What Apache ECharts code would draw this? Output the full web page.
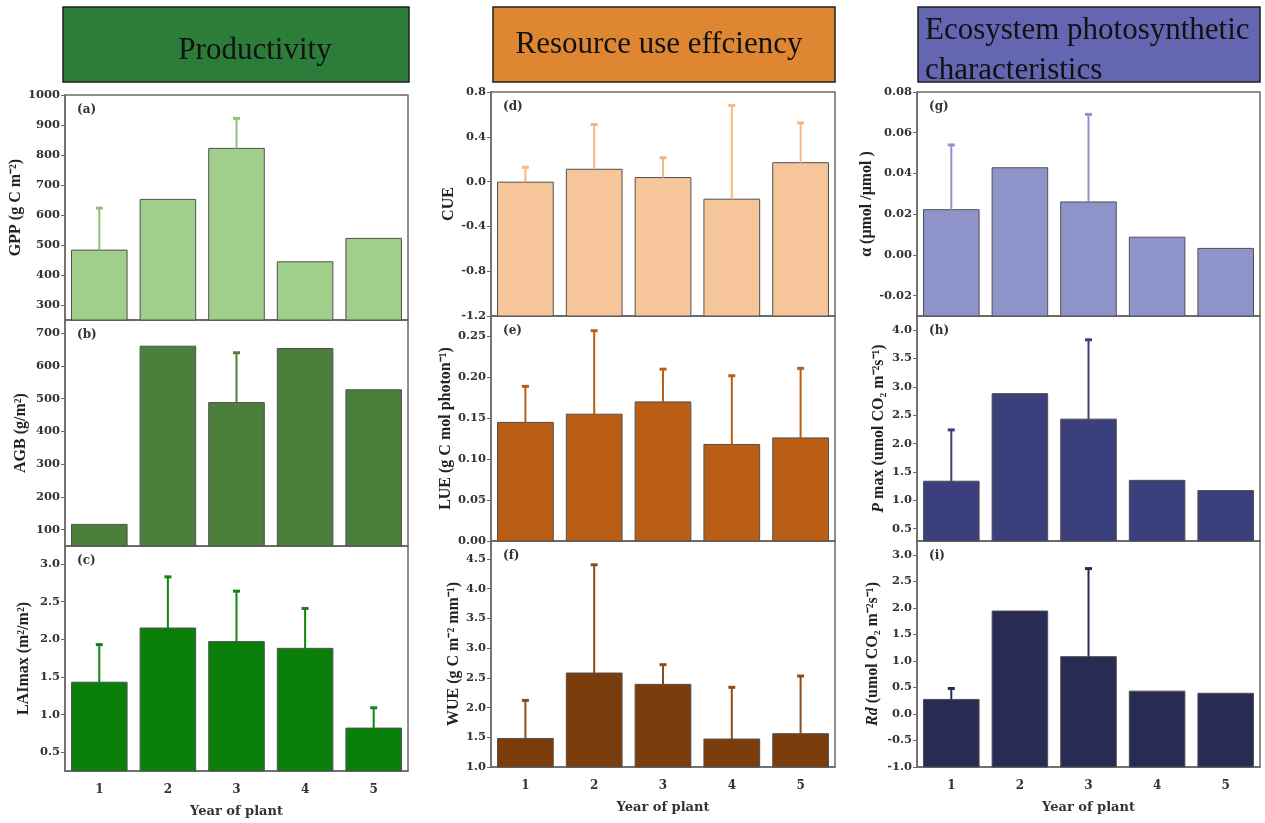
<!DOCTYPE html>
<html>
<head>
<meta charset="utf-8">
<script src="https://cdn.jsdelivr.net/npm/echarts@6/dist/echarts.min.js"></script>
<style>
html,body{margin:0;padding:0;background:#fff;}
#chart{width:1265px;height:823px;}
</style>
</head>
<body>
<div id="chart"></div>
<script>
// ---------- data ----------
const years = ['1', '2', '3', '4', '5'];

const gpp = [483, 652, 822, 444, 522];
const gppUpper = [623, null, 922, null, null];
const agb = [116, 660, 488, 653, 527];
const agbUpper = [null, null, 640, null, null];
const laimax = [1.43, 2.15, 1.97, 1.88, 0.82];
const laimaxUpper = [1.93, 2.83, 2.64, 2.41, 1.09];

const cue = [-0.005, 0.11, 0.036, -0.157, 0.169];
const cueUpper = [0.128, 0.51, 0.213, 0.68, 0.524];
const lue = [0.145, 0.155, 0.170, 0.118, 0.126];
const lueUpper = [0.189, 0.257, 0.210, 0.202, 0.211];
const wue = [1.48, 2.58, 2.39, 1.47, 1.56];
const wueUpper = [2.12, 4.40, 2.72, 2.34, 2.53];

const alpha = [0.0222, 0.0428, 0.026, 0.0087, 0.0032];
const alphaUpper = [0.054, null, 0.069, null, null];
const pmax = [1.335, 2.88, 2.43, 1.35, 1.17];
const pmaxUpper = [2.24, null, 3.83, null, null];
const rd = [0.274, 1.94, 1.08, 0.43, 0.39];
const rdUpper = [0.48, null, 2.74, null, null];

// tick labels
const gppTicks = [300, 400, 500, 600, 700, 800, 900, 1000];
const agbTicks = [100, 200, 300, 400, 500, 600, 700];
const laiTicks = [0.5, 1.0, 1.5, 2.0, 2.5, 3.0];
const cueTicks = [-1.2, -0.8, -0.4, 0.0, 0.4, 0.8];
const lueTicks = [0.00, 0.05, 0.10, 0.15, 0.20, 0.25];
const wueTicks = [1.0, 1.5, 2.0, 2.5, 3.0, 3.5, 4.0, 4.5];
const alphaTicks = [-0.02, 0.00, 0.02, 0.04, 0.06, 0.08];
const pmaxTicks = [0.5, 1.0, 1.5, 2.0, 2.5, 3.0, 3.5, 4.0];
const rdTicks = [-1.0, -0.5, 0.0, 0.5, 1.0, 1.5, 2.0, 2.5, 3.0];

const headers = ['Productivity', 'Resource use effciency', 'Ecosystem photosynthetic\ncharacteristics'];
const panelLetters = ['(a)', '(b)', '(c)', '(d)', '(e)', '(f)', '(g)', '(h)', '(i)'];
const xTitle = 'Year of plant';

// ---------- layout / style ----------
const panels = [
  {vals: gpp, up: gppUpper, ticks: gppTicks, min: 250, max: 1000, dec: 0, color: '#9fcf8b', err: '#8cc579', name: 'GPP (g C m⁻²)', gap: 35},
  {vals: agb, up: agbUpper, ticks: agbTicks, min: 50, max: 740, dec: 0, color: '#4b7f3b', err: '#4b7f3b', name: 'AGB (g/m²)', gap: 36},
  {vals: laimax, up: laimaxUpper, ticks: laiTicks, min: 0.25, max: 3.24, dec: 1, color: '#0a800a', err: '#0f860f', name: 'LAImax (m²/m²)', gap: 33},
  {vals: cue, up: cueUpper, ticks: cueTicks, min: -1.2, max: 0.8, dec: 1, color: '#f7c59a', err: '#f4b883', name: 'CUE', gap: 34},
  {vals: lue, up: lueUpper, ticks: lueTicks, min: 0, max: 0.275, dec: 2, color: '#b95e14', err: '#b95e14', name: 'LUE (g C mol photon⁻¹)', gap: 34},
  {vals: wue, up: wueUpper, ticks: wueTicks, min: 1.0, max: 4.8, dec: 1, color: '#7b3d0c', err: '#8a4c1c', name: 'WUE (g C m⁻² mm⁻¹)', gap: 29},
  {vals: alpha, up: alphaUpper, ticks: alphaTicks, min: -0.03, max: 0.08, dec: 2, color: '#8e94ca', err: '#8e94ca', name: 'α (μmol /μmol )', gap: 36},
  {vals: pmax, up: pmaxUpper, ticks: pmaxTicks, min: 0.28, max: 4.25, dec: 1, color: '#3b3f7b', err: '#3b3f7b', name: '{i|P} max (umol CO₂ m⁻²s⁻¹)', gap: 30},
  {vals: rd, up: rdUpper, ticks: rdTicks, min: -1.0, max: 3.26, dec: 1, color: '#282b54', err: '#282b54', name: '{i|Rd} (umol CO₂ m⁻²s⁻¹)', gap: 36}
];

const colLeft = [65, 491, 917];
const colWidth = [343, 344, 343];
const rowTops = [[95, 320, 546], [92, 316, 541], [92, 316, 541]];
const rowHeights = [[225, 226, 225], [224, 225, 226], [224, 225, 226]];

const tickFont = 'DejaVu Serif';
const nameFont = 'Liberation Serif';

const grids = [], xAxes = [], yAxes = [], series = [], graphics = [];

panels.forEach((p, k) => {
  const c = Math.floor(k / 3), r = k % 3;
  const g = {left: colLeft[c], top: rowTops[c][r], width: colWidth[c], height: rowHeights[c][r],
    show: true, borderColor: '#6a6a6a', borderWidth: 1.5, backgroundColor: 'transparent'};
  grids.push(g);
  const bottom = r === 2;
  xAxes.push({
    type: 'category', gridIndex: k, data: years, boundaryGap: true,
    axisLine: {show: true, onZero: false, lineStyle: {color: '#6a6a6a', width: 1.5}},
    axisTick: {show: false},
    axisLabel: {show: bottom, margin: 13, fontFamily: tickFont, fontWeight: 'bold', fontSize: 12, color: '#333'},
    name: bottom ? xTitle : '', nameLocation: 'middle', nameGap: 34,
    nameTextStyle: {fontFamily: tickFont, fontWeight: 'bold', fontSize: 13, color: '#333'}
  });
  yAxes.push({
    type: 'value', gridIndex: k, min: p.min, max: p.max,
    axisLine: {show: true, onZero: false, lineStyle: {color: '#6a6a6a', width: 1.5}},
    axisTick: {show: true, inside: false, length: 4, customValues: p.ticks, lineStyle: {color: '#6a6a6a'}},
    axisLabel: {customValues: p.ticks, margin: 5, fontFamily: tickFont, fontWeight: 'bold', fontSize: 11.5, color: '#333',
      formatter: v => Number(v).toFixed(p.dec)},
    splitLine: {show: false},
    name: p.name, nameLocation: 'middle', nameGap: p.gap, nameRotate: 90,
    nameTextStyle: {fontFamily: nameFont, fontWeight: 'bold', fontSize: 16, color: '#222',
      rich: {i: {fontFamily: nameFont, fontWeight: 'bold', fontStyle: 'italic', fontSize: 16, color: '#222'}}}
  });
  const yMin = p.min;
  series.push({
    type: 'custom', xAxisIndex: k, yAxisIndex: k, silent: true, z: 2,
    encode: {x: 0, y: 1},
    data: p.vals.map((v, i) => [i, v]),
    renderItem: (params, api) => {
      const x = api.value(0), v = api.value(1);
      const topP = api.coord([x, v]);
      const baseP = api.coord([x, yMin]);
      const w = api.size([1, 0])[0] * 0.81;
      return {type: 'rect', shape: {x: topP[0] - w / 2, y: topP[1], width: w, height: baseP[1] - topP[1]},
        style: {fill: p.color, stroke: '#505050', lineWidth: 1}};
    }
  });
  series.push({
    type: 'custom', xAxisIndex: k, yAxisIndex: k, silent: true, z: 3,
    encode: {x: 0, y: 1},
    data: p.vals.map((v, i) => [i, v, p.up[i]]).filter(d => d[2] !== null),
    renderItem: (params, api) => {
      const x = api.value(0), v = api.value(1), u = api.value(2);
      const p0 = api.coord([x, v]);
      const p1 = api.coord([x, u]);
      return {type: 'group', children: [
        {type: 'line', shape: {x1: p0[0], y1: p0[1], x2: p1[0], y2: p1[1]}, style: {stroke: p.err, lineWidth: 2}},
        {type: 'line', shape: {x1: p1[0] - 3.5, y1: p1[1], x2: p1[0] + 3.5, y2: p1[1]}, style: {stroke: p.err, lineWidth: 3}}
      ]};
    }
  });
  graphics.push({type: 'text', left: g.left + 12, top: g.top + 9, silent: true,
    style: {text: panelLetters[k], fontFamily: tickFont, fontWeight: 'bold', fontSize: 12, fill: '#333'}});
});

// header boxes
const headerBoxes = [
  {x: 63, w: 346, fill: '#2c7c3a'},
  {x: 493, w: 342, fill: '#df8632'},
  {x: 918, w: 342, fill: '#6466b2'}
];
headerBoxes.forEach(h => {
  graphics.push({type: 'rect', shape: {x: h.x, y: 7, width: h.w, height: 75}, silent: true,
    style: {fill: h.fill, stroke: '#1f1f1f', lineWidth: 1.5}});
});
graphics.push({type: 'text', x: 255, y: 51, silent: true,
  style: {text: headers[0], fontFamily: nameFont, fontSize: 31, fill: '#111', align: 'center', verticalAlign: 'middle'}});
graphics.push({type: 'text', x: 659, y: 45, silent: true,
  style: {text: headers[1], fontFamily: nameFont, fontSize: 31, fill: '#111', align: 'center', verticalAlign: 'middle'}});
graphics.push({type: 'text', x: 925, y: 51, silent: true,
  style: {text: headers[2], fontFamily: nameFont, fontSize: 31, lineHeight: 40, fill: '#111', align: 'left', verticalAlign: 'middle'}});

const chart = echarts.init(document.getElementById('chart'), null, {renderer: 'canvas'});
chart.setOption({
  animation: false,
  backgroundColor: '#fff',
  grid: grids,
  xAxis: xAxes,
  yAxis: yAxes,
  series: series,
  graphic: graphics
});
</script>
</body>
</html>
